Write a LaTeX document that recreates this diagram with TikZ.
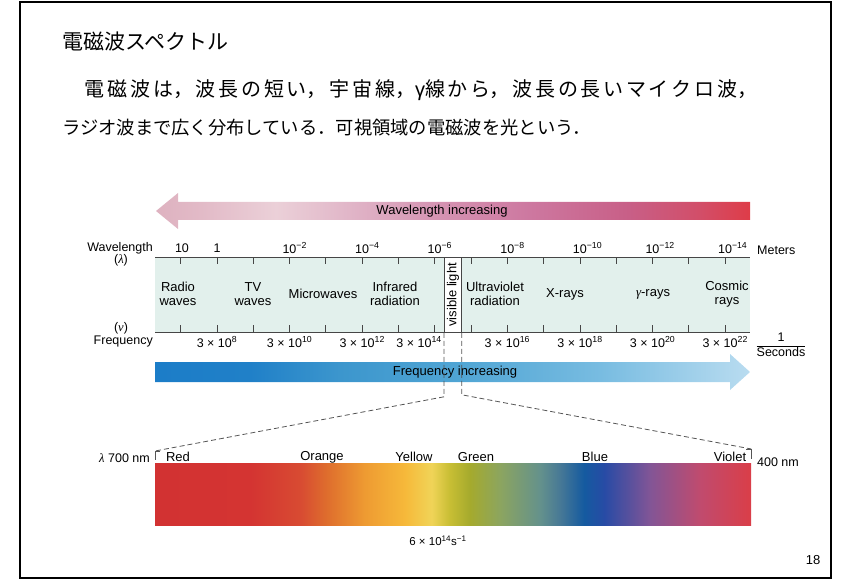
\documentclass[tikz,border=0pt]{standalone}
\usepackage{fontspec}
\setmainfont{Liberation Sans}
\newfontfamily\jafont{Noto Sans CJK JP}
\newfontfamily\grfont{Liberation Serif}
\usetikzlibrary{calc,positioning}

% a Japanese paragraph whose one line is spread out to the full width
\newcommand{\spreadline}[1]{\XeTeXlinebreaklocale "ja"\XeTeXlinebreakskip=0pt plus 1fil%
  \parfillskip=0pt\parindent=0pt\noindent #1\par}

\definecolor{bandfill}{RGB}{226,240,236}
\definecolor{axisgray}{RGB}{70,70,70}
\definecolor{guidegray}{RGB}{85,85,85}
% wavelength arrow
\definecolor{wl0}{RGB}{222,178,192}
\definecolor{wl1}{RGB}{226,186,199}
\definecolor{wl2}{RGB}{235,208,216}
\definecolor{wl3}{RGB}{226,185,202}
\definecolor{wl4}{RGB}{214,150,180}
\definecolor{wl5}{RGB}{205,120,160}
\definecolor{wl6}{RGB}{200,95,135}
\definecolor{wl7}{RGB}{210,78,105}
\definecolor{wl8}{RGB}{222,60,72}
% frequency arrow
\definecolor{fq0}{RGB}{28,125,200}
\definecolor{fq1}{RGB}{32,128,200}
\definecolor{fq2}{RGB}{60,150,205}
\definecolor{fq3}{RGB}{80,165,212}
\definecolor{fq4}{RGB}{120,188,225}
\definecolor{fq5}{RGB}{185,220,240}
% visible spectrum
\definecolor{sp0}{RGB}{210,50,50}
\definecolor{sp1}{RGB}{212,52,50}
\definecolor{sp2}{RGB}{216,75,50}
\definecolor{sp3}{RGB}{222,108,45}
\definecolor{sp4}{RGB}{238,155,50}
\definecolor{sp5}{RGB}{246,185,58}
\definecolor{sp6}{RGB}{240,212,88}
\definecolor{sp7}{RGB}{200,190,52}
\definecolor{sp8}{RGB}{165,170,45}
\definecolor{sp9}{RGB}{140,165,95}
\definecolor{sp10}{RGB}{100,145,140}
\definecolor{sp11}{RGB}{70,120,150}
\definecolor{sp12}{RGB}{20,90,160}
\definecolor{sp13}{RGB}{40,75,165}
\definecolor{sp14}{RGB}{130,85,150}
\definecolor{sp15}{RGB}{192,75,110}
\definecolor{sp16}{RGB}{218,62,72}

\pgfdeclarehorizontalshading{wavelenshade}{100bp}{color(0bp)=(wl0); color(25bp)=(wl0);
  color(28.8bp)=(wl1); color(35.1bp)=(wl2); color(40.5bp)=(wl3); color(48bp)=(wl4);
  color(56.4bp)=(wl5); color(64.8bp)=(wl6); color(70.7bp)=(wl7); color(75bp)=(wl8);
  color(100bp)=(wl8)}
\pgfdeclarehorizontalshading{freqshade}{100bp}{color(0bp)=(fq0); color(25bp)=(fq0);
  color(33bp)=(fq1); color(40.5bp)=(fq2); color(50.6bp)=(fq3); color(62.4bp)=(fq4);
  color(75bp)=(fq5); color(100bp)=(fq5)}
\pgfdeclarehorizontalshading{spectrumshade}{100bp}{color(0bp)=(sp0); color(25bp)=(sp0);
  color(33bp)=(sp1); color(37.2bp)=(sp2); color(39.3bp)=(sp3); color(42.6bp)=(sp4);
  color(46bp)=(sp5); color(48.2bp)=(sp6); color(49.7bp)=(sp7); color(51.4bp)=(sp8);
  color(53.9bp)=(sp9); color(57.3bp)=(sp10); color(59bp)=(sp11); color(61bp)=(sp12);
  color(62.7bp)=(sp13); color(66.5bp)=(sp14); color(70.7bp)=(sp15); color(75bp)=(sp16);
  color(100bp)=(sp16)}

\tikzstyle{axislabel}=[inner sep=0pt, font=\fontsize{12.5}{14}\selectfont]
\tikzstyle{bandtext}=[align=center, inner sep=0pt, font=\fontsize{13}{14}\selectfont]
\tikzstyle{axisline}=[draw=axisgray, line width=0.9pt]
\tikzstyle{guide}=[draw=guidegray, line width=0.8pt, dash pattern=on 5pt off 3pt]
\tikzstyle{jatext}=[anchor=west, inner sep=0pt, font=\jafont\fontsize{18.3}{22}\selectfont]

\begin{document}
\begin{tikzpicture}[x=1pt,y=-1pt]
    \useasboundingbox (0,0) rectangle (854,580);
    \draw[line width=1.6pt] (20,2) rectangle (831,578);

    \node[jatext, font=\jafont\fontsize{21}{25}\selectfont] (title) at (62,42) {電磁波スペクトル};
    \node[jatext, text width=695pt, font=\jafont\fontsize{20}{24}\selectfont] (line1) at (62,90)
        {\spreadline{　電磁波は，波長の短い，宇宙線，{\rmfamily γ}線から，波長の長いマイクロ波，}};
    \node[jatext] (line2) at (62,128) {ラジオ波まで広く分布している．可視領域の電磁波を光という．};

    % wavelength arrow
    \shade[shading=wavelenshade] (156,211) -- (178,193) -- (178,202) -- (750,202)
        -- (750,220) -- (178,220) -- (178,229) -- cycle;
    \node[bandtext] (wlinc) at (442,211) {Wavelength increasing};

    % band of the spectrum
    \node[fill=bandfill, minimum width=595, minimum height=75, inner sep=0pt,
        anchor=north west] (band) at (155,257) {};
    \node[draw=axisgray, fill=white, line width=0.8pt, minimum width=17,
        minimum height=75, inner sep=0pt, anchor=north west] (vislight) at (444,257) {};
    \node[bandtext, rotate=90] (vistext) at (vislight.center) {visible light};
    \draw[axisline] (band.north west) -- (band.north east);
    \draw[axisline] (band.south west) -- (band.south east);
    \foreach \k in {-1,...,14}{
        \draw[axisline] ({217+36.3*(\k)},257) -- ++(0,7);
        \draw[axisline] ({217+36.3*(\k)},332) -- ++(0,-7);
    }

    \node[axislabel] (wl10) at (182,248) {10};
    \node[axislabel] (wl1) at (217,248) {1};
    \foreach \k in {2,4,...,14}{
        \node[axislabel, anchor=west] (wl\k) at ({217+36.3*\k-7.3},248) {10\textsuperscript{−\k}};
    }
    \foreach \k/\e in {0/8,2/10,4/12,8/16,10/18,12/20,14/22}{
        \node[axislabel] (fq\e) at ({217+36.3*\k},342) {3 × 10\textsuperscript{\e}};
    }
    \node[axislabel, anchor=east] (fq14) at (442,342) {3 × 10\textsuperscript{14}};

    \node[axislabel, anchor=east] (wlname) at (153,248) {Wavelength};
    \node[axislabel] (wlsym) at (121,260) {({\grfont\itshape λ})};
    \node[axislabel] (fqsym) at (121,328) {({\grfont\itshape ν})};
    \node[axislabel, anchor=east] (fqname) at (153,341) {Frequency};
    \node[axislabel, anchor=west] (meters) at (757,250) {Meters};
    \node[axislabel] (persec) at (781,346) {\begin{tabular}{@{}c@{}}1\\\hline Seconds\end{tabular}};

    \node[bandtext] (radio) at (178,294) {Radio\\waves};
    \node[bandtext] (tv) at (253,294) {TV\\waves};
    \node[bandtext] (micro) at (323,294) {Microwaves};
    \node[bandtext] (infra) at (395,294) {Infrared\\radiation};
    \node[bandtext] (uv) at (495,294) {Ultraviolet\\radiation};
    \node[bandtext] (xray) at (565,294) {X-rays};
    \node[bandtext] (gamma) at (653,294) {{\grfont\itshape γ}-rays};
    \node[bandtext] (cosmic) at (727,294) {Cosmic\\rays};

    % frequency arrow
    \shade[shading=freqshade] (155,362) -- (730,362) -- (730,354) -- (750,372)
        -- (730,390) -- (730,382) -- (155,382) -- cycle;
    \node[bandtext] (fqinc) at (455,372) {Frequency increasing};

    % visible part
    \node[shade, shading=spectrumshade, minimum width=596, minimum height=62,
        inner sep=0pt, anchor=north west] (spec) at (155,463) {};
    \coordinate (lcorner) at ($(spec.north west)+(0,-12)$);
    \coordinate (rcorner) at ($(spec.north east)+(0,-14)$);
    \draw[guide] (vislight.south west) -- ++(0,64) -- (lcorner);
    \draw[guide] (vislight.south east) -- ++(0,62) -- (rcorner);
    \draw[draw=guidegray, line width=0.8pt] ($(lcorner)+(5,0)$) -- (lcorner) -- ($(lcorner)+(0,9)$);
    \draw[draw=guidegray, line width=0.8pt] ($(rcorner)+(-5,0)$) -- (rcorner) -- ($(rcorner)+(0,10)$);

    \node[bandtext] (redname) at (178,457) {Red};
    \node[bandtext] (orangename) at (322,457) {Orange};
    \node[bandtext] (yellowname) at (414,457) {Yellow};
    \node[bandtext] (greenname) at (476,457) {Green};
    \node[bandtext] (bluename) at (595,457) {Blue};
    \node[bandtext] (violetname) at (730,457) {Violet};
    \node[axislabel, anchor=east] (longend) at (150,458) {{\grfont\itshape λ} 700 nm};
    \node[axislabel] (shortend) at (778,462) {400 nm};
    \node[axislabel, font=\fontsize{11.5}{13}\selectfont] (vfreq) at (438,541)
        {6 × 10\textsuperscript{14}s\textsuperscript{−1}};
    \node[axislabel, font=\fontsize{13}{14}\selectfont] (pageno) at (813,560) {18};
\end{tikzpicture}
\end{document}
